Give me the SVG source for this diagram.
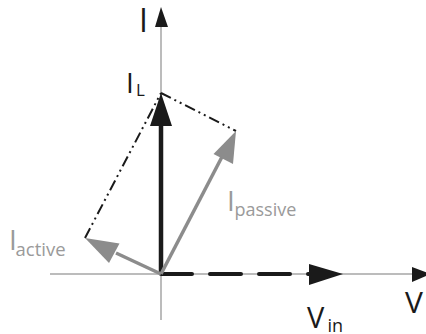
<svg xmlns="http://www.w3.org/2000/svg" width="426" height="334" viewBox="0 0 426 334">
<style>
.axis{stroke:#a6a6a6;stroke-width:1.5;fill:none}
.blk{fill:#1a1a1a}
.gry{fill:#8c8c8c}
.dd{stroke:#1a1a1a;stroke-width:2;fill:none;stroke-dasharray:11 4 2 4 2 4}
.lbl{font-family:"Open Sans","Liberation Sans",sans-serif;fill:#1a1a1a}
.glbl{font-family:"Open Sans","Liberation Sans",sans-serif;fill:#9a9a9a}
</style>
<rect width="426" height="334" fill="#ffffff"/>
<g id="connectors">
  <line class="axis" x1="161" y1="320" x2="161" y2="26"/>
  <polygon class="blk" points="161,7 155,27 168,27"/>
  <line class="axis" x1="50" y1="274" x2="413" y2="274"/>
  <polygon class="blk" points="431,274 412,267 412,282"/>
  <line class="dd" x1="85" y1="238" x2="161" y2="93"/>
  <line class="dd" x1="161" y1="93" x2="236" y2="131"/>
  <line x1="161" y1="274" x2="161" y2="124" stroke="#1a1a1a" stroke-width="4.5"/>
  <polygon class="blk" points="161,93 150,126 172,126"/>
  <line x1="161" y1="274" x2="309" y2="274" stroke="#1a1a1a" stroke-width="4" stroke-dasharray="31 18" stroke-linecap="round"/>
  <polygon class="blk" points="343,274 309,264 309,285"/>
  <line x1="161" y1="274" x2="224" y2="153" stroke="#8c8c8c" stroke-width="3.5"/>
  <polygon class="gry" points="236,131 233,164 213.5,154"/>
  <line x1="161" y1="274" x2="116" y2="253" stroke="#8c8c8c" stroke-width="3.5"/>
  <polygon class="gry" points="85,238 119.5,243.5 109,263"/>
</g>
<g id="label-I"><text class="lbl" x="139" y="32" font-size="32">I</text></g>
<g id="label-IL"><text class="lbl" x="126" y="93" font-size="28">I<tspan x="136" y="96" font-size="17">L</tspan></text></g>
<g id="label-Ipassive"><text class="glbl" x="227" y="211" font-size="28">I<tspan x="234.5" y="216" font-size="18">passive</tspan></text></g>
<g id="label-Iactive"><text class="glbl" x="9" y="250" font-size="28">I<tspan x="15.5" y="256" font-size="18.5">active</tspan></text></g>
<g id="label-V"><text class="lbl" x="405" y="313" font-size="30">V</text></g>
<g id="label-Vin"><text class="lbl" x="307" y="328" font-size="29">V<tspan x="327.5" y="332" font-size="18">in</tspan></text></g>
</svg>
